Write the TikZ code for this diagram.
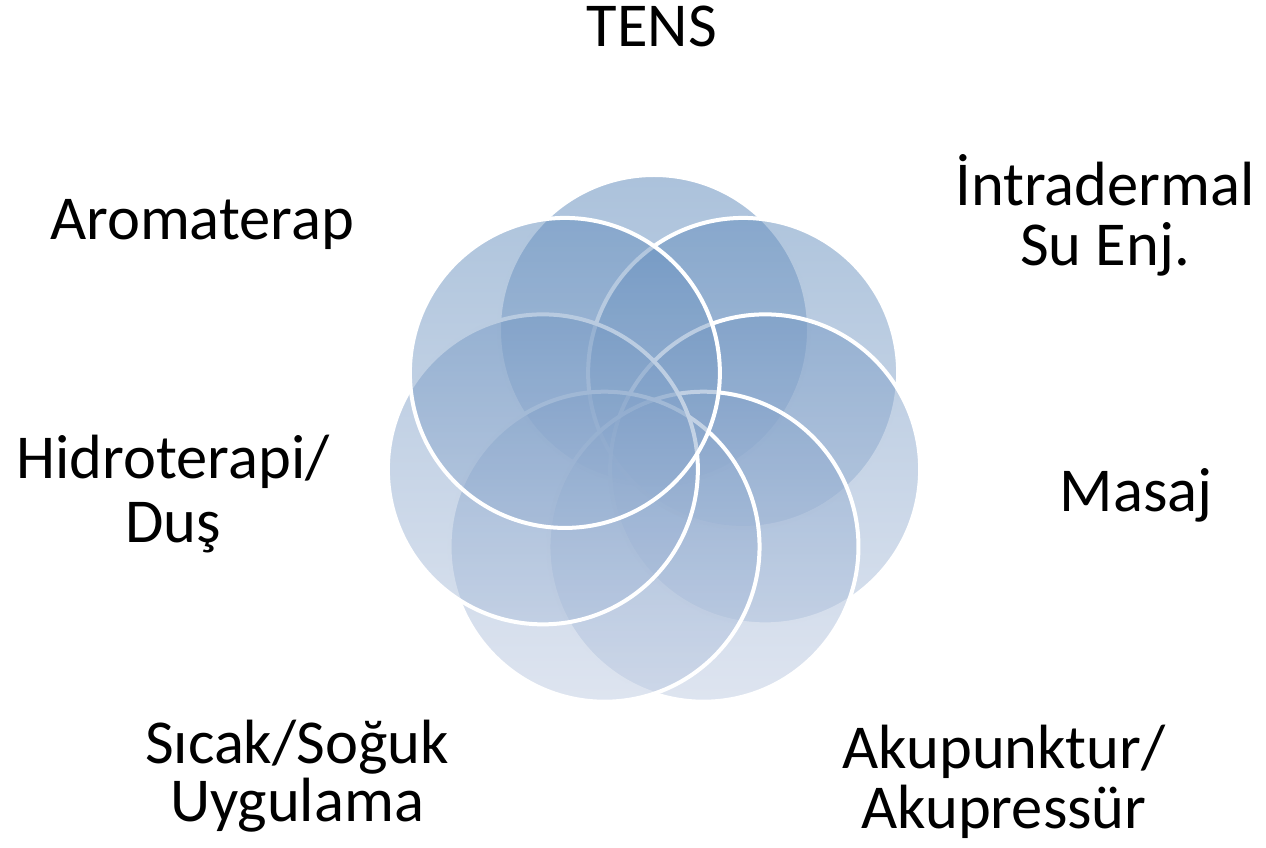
\documentclass[tikz,border=0pt]{standalone}
\usepackage{fontspec}
\setmainfont{Carlito}
\definecolor{tA}{RGB}{88,133,184}
\definecolor{bA}{RGB}{148,174,208}
\definecolor{tB}{RGB}{96,139,187}
\definecolor{bB}{RGB}{156,179,211}
\definecolor{tC}{RGB}{115,151,195}
\definecolor{bC}{RGB}{174,192,219}
\definecolor{tD}{RGB}{130,161,201}
\definecolor{bD}{RGB}{189,202,225}
\newcommand\tstrut{\rule{0pt}{58pt}}
\begin{document}
\begin{tikzpicture}[x=1pt,y=1pt,
  lbl/.style={font=\fontsize{62.5}{60}\selectfont, inner sep=0pt, align=center, text=black},
  ringline/.style={draw=white, line width=4pt},
  disc/.style={opacity=0.5}]
\useasboundingbox (0,0) rectangle (1266,847);
\coordinate (ctr) at (654,403);
\foreach \i/\a in {1/90,2/38.571,3/-12.857,4/-64.286,5/-115.714,6/-167.143,7/141.429}
  \coordinate (c\i) at ([shift={(\a:114)}]ctr);
% circles, drawn in order 1..7
\shade[disc, top color=tA, bottom color=bA] (c1) circle[radius=155pt];
\draw[ringline] (c1) circle[radius=155pt];
\shade[disc, top color=tB, bottom color=bB] (c2) circle[radius=155pt];
\draw[ringline] (c2) circle[radius=155pt];
\shade[disc, top color=tC, bottom color=bC] (c3) circle[radius=155pt];
\draw[ringline] (c3) circle[radius=155pt];
\shade[disc, top color=tD, bottom color=bD] (c4) circle[radius=155pt];
\draw[ringline] (c4) circle[radius=155pt];
\shade[disc, top color=tD, bottom color=bD] (c5) circle[radius=155pt];
\draw[ringline] (c5) circle[radius=155pt];
\shade[disc, top color=tC, bottom color=bC] (c6) circle[radius=155pt];
\draw[ringline] (c6) circle[radius=155pt];
\shade[disc, top color=tB, bottom color=bB] (c7) circle[radius=155pt];
\draw[ringline] (c7) circle[radius=155pt];
% labels
\node[lbl, anchor=base, text height=40pt] (tens) at (652,800) {TENS};
\node[lbl, anchor=north] (intra) at (1105,700) {\tstrut İntradermal\\Su Enj.};
\node[lbl, anchor=base] (masaj) at (1136,335) {Masaj};
\node[lbl, anchor=north] (aku) at (1004,137) {\tstrut Akupunktur/\\Akupressür};
\node[lbl, anchor=north, font=\fontsize{62.5}{58}\selectfont] (sicak) at (297,142) {\tstrut Sıcak/Soğuk\\Uygulama};
\node[lbl, anchor=north, font=\fontsize{62.5}{64}\selectfont] (hidro) at (173,427) {\tstrut Hidroterapi/\\Duş};
\node[lbl, anchor=base] (aroma) at (202,607) {Aromaterap};
\end{tikzpicture}
\end{document}
